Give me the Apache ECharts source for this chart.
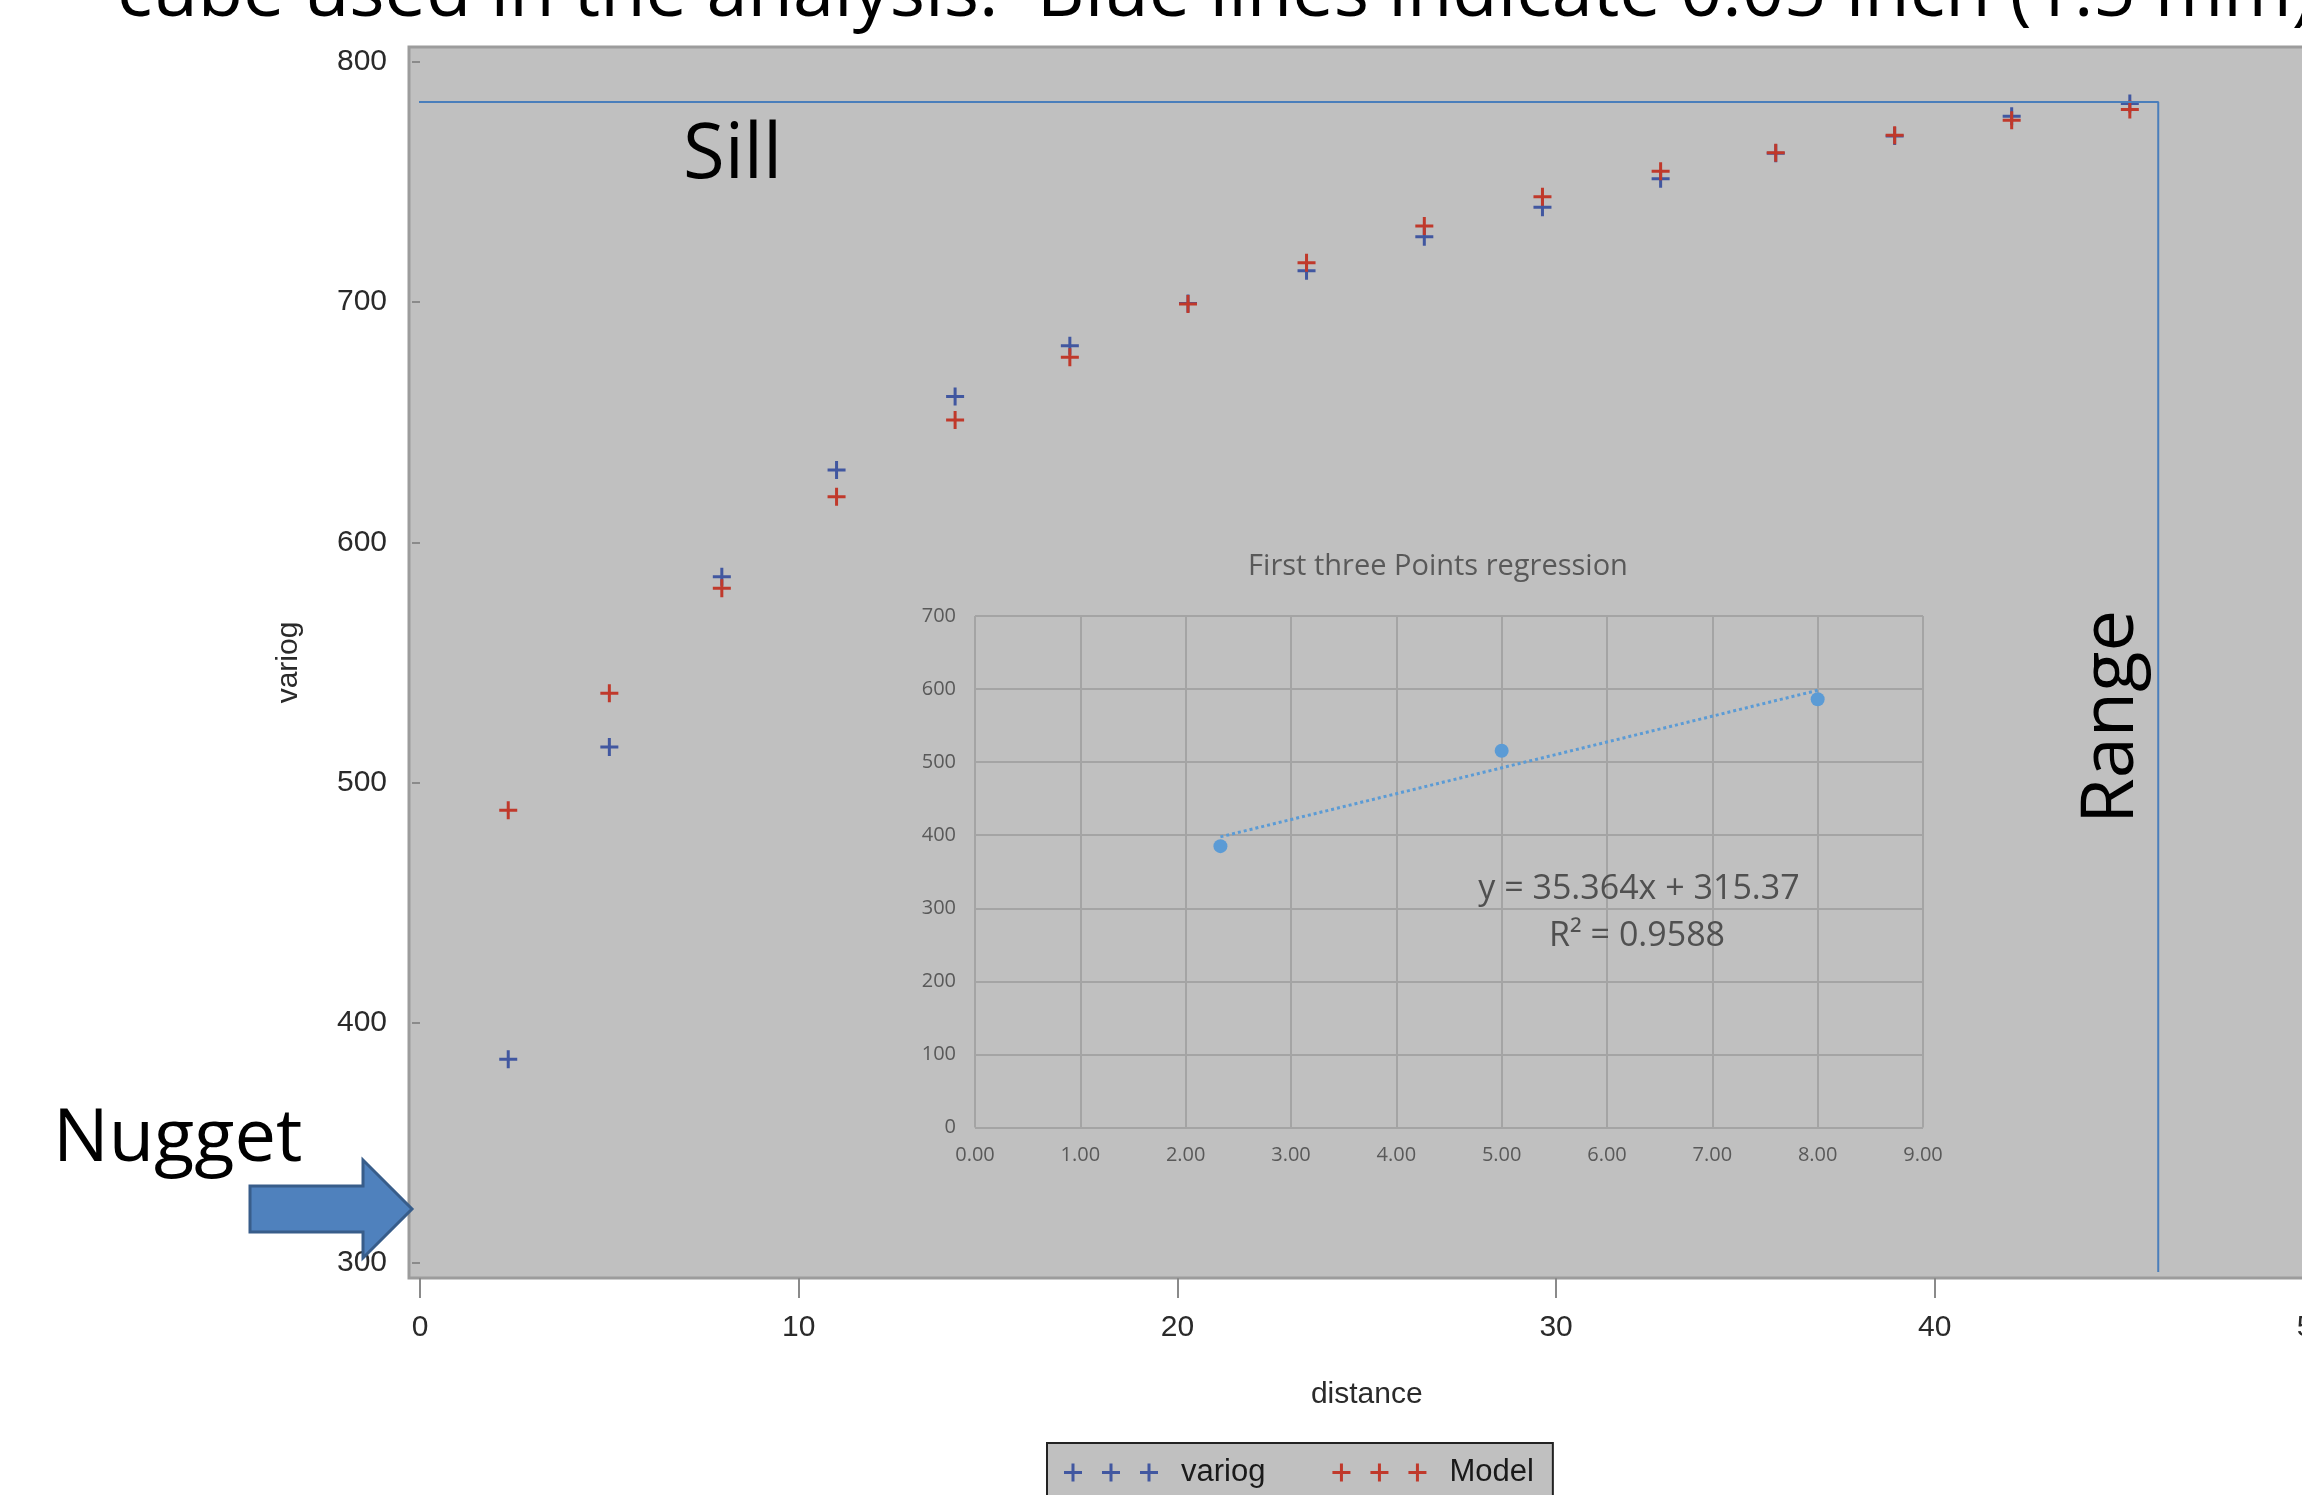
<!DOCTYPE html>
<html><head><meta charset="utf-8">
<script src="https://cdn.jsdelivr.net/npm/echarts@6/dist/echarts.min.js"></script>
<style>html,body{margin:0;padding:0;background:#fff}#c{width:2302px;height:1495px}</style>
</head><body><div id="c"></div>
<script>
// ---- main variogram data ----
const distance = [2.33, 5.0, 7.97, 11.0, 14.13, 17.16, 20.28, 23.41, 26.52, 29.64, 32.76, 35.8, 38.94, 42.03, 45.15];
const variog   = [384.8, 514.8, 585.7, 630.1, 660.7, 681.9, 699.5, 713.1, 727.3, 739.5, 751.4, 762.0, 769.2, 777.4, 782.7];
const model    = [488.5, 537.2, 580.9, 619.0, 651.0, 677.1, 699.3, 716.4, 731.7, 743.9, 754.5, 762.2, 769.5, 775.8, 780.2];
const mainXTicks = [0, 10, 20, 30, 40, 50];
const mainYTicks = [300, 400, 500, 600, 700, 800];
// sill / range guide lines (data units)
const sillValue = 783.3;
const rangeValue = 45.9;
const sillStartX = -0.29;
const rangeBottomY = 296.3;
// ---- inset regression data ----
const insetX = [2.33, 5.0, 8.0];
const insetY = [385, 515.5, 586];
const insetXTicks = [0, 1, 2, 3, 4, 5, 6, 7, 8, 9];
const insetYTicks = [0, 100, 200, 300, 400, 500, 600, 700];
const slope = 35.364, intercept = 315.37, rSquared = 0.9588;

const BLUE = '#4157a0', RED = '#c0392b', XL = '#5b9bd5';
function plusAt(o, s, t) {
  const a = o + (s - t) / 2, b = o + (s + t) / 2, c = (s - t) / 2, d = (s + t) / 2;
  return `M${a},0H${b}V${c}H${o + s}V${d}H${b}V${s}H${a}V${d}H${o}V${c}H${a}Z`;
}
const plusPath = 'path://' + plusAt(0, 18, 3);
const legendPath = 'path://' + plusAt(0, 18, 3) + plusAt(38, 18, 3) + plusAt(76, 18, 3);

const trend = [insetX[0], insetX[insetX.length - 1]].map(x => [x, slope * x + intercept]);

const chart = echarts.init(document.getElementById('c'), null, {renderer: 'canvas'});
const mainFont = 'Liberation Sans';
const excelFont = 'Open Sans';
chart.setOption({
  animation: false,
  backgroundColor: '#fff',
  grid: [
    {left: 409, top: 47, width: 1960, height: 1231, show: true, backgroundColor: '#c0c0c0', borderColor: '#9c9c9c', borderWidth: 3, outerBoundsMode: 'none', containLabel: false},
    {left: 420, top: 62, width: 1893.5, height: 1201, outerBoundsMode: 'none', containLabel: false},
    {left: 975, top: 616, width: 948, height: 511.5, outerBoundsMode: 'none', containLabel: false}
  ],
  xAxis: [
    {gridIndex: 0, type: 'value', show: false, min: 0, max: 1},
    {gridIndex: 1, type: 'value', min: mainXTicks[0], max: mainXTicks[mainXTicks.length - 1], interval: 10, offset: 15,
      axisLine: {show: false}, splitLine: {show: false},
      axisTick: {show: true, length: 20, lineStyle: {color: '#8a8a8a', width: 2}},
      axisLabel: {margin: 35, fontSize: 30, color: '#2a2a2a', fontFamily: mainFont},
      name: 'distance', nameLocation: 'middle', nameGap: 102,
      nameTextStyle: {fontSize: 30, color: '#2a2a2a', fontFamily: mainFont}},
    {gridIndex: 2, type: 'value', min: insetXTicks[0], max: insetXTicks[insetXTicks.length - 1], interval: 1,
      axisLine: {show: false}, axisTick: {show: false},
      splitLine: {show: true, lineStyle: {color: '#a4a4a4', width: 2}},
      axisLabel: {margin: 18, fontSize: 20, color: '#595959', fontFamily: excelFont, formatter: v => v.toFixed(2)}}
  ],
  yAxis: [
    {gridIndex: 0, type: 'value', show: false, min: 0, max: 1},
    {gridIndex: 1, type: 'value', min: mainYTicks[0], max: mainYTicks[mainYTicks.length - 1], interval: 100, offset: 11,
      axisLine: {show: false}, splitLine: {show: false},
      axisTick: {show: true, length: 8, lineStyle: {color: '#8a8a8a', width: 2}},
      axisLabel: {margin: 22, fontSize: 30, color: '#2a2a2a', fontFamily: mainFont},
      name: 'variog', nameLocation: 'middle', nameGap: 105, nameRotate: 90,
      nameTextStyle: {fontSize: 30, color: '#2a2a2a', fontFamily: mainFont}},
    {gridIndex: 2, type: 'value', min: insetYTicks[0], max: insetYTicks[insetYTicks.length - 1], interval: 100,
      axisLine: {show: false}, axisTick: {show: false},
      splitLine: {show: true, lineStyle: {color: '#a4a4a4', width: 2}},
      axisLabel: {margin: 19, fontSize: 20, color: '#595959', fontFamily: excelFont}}
  ],
  legend: {
    data: [{name: 'variog', icon: legendPath}, {name: 'Model', icon: legendPath}],
    left: 1047, top: 1443, padding: [14, 19, 14, 17],
    itemGap: 67, itemWidth: 94, itemHeight: 18,
    backgroundColor: '#c0c0c0', borderColor: '#222', borderWidth: 2,
    textStyle: {fontSize: 31, fontFamily: mainFont, color: '#1a1a1a', padding: [0, 0, 0, 18]}
  },
  series: [
    {name: 'guides', type: 'line', xAxisIndex: 1, yAxisIndex: 1, clip: false, silent: true, symbol: 'none',
      lineStyle: {color: '#4a7ebb', width: 2},
      data: [[sillStartX, sillValue], [rangeValue, sillValue], [rangeValue, rangeBottomY]]},
    {name: 'variog', type: 'scatter', xAxisIndex: 1, yAxisIndex: 1, symbol: plusPath, symbolSize: 18,
      itemStyle: {color: BLUE, opacity: 1}, data: distance.map((d, i) => [d, variog[i]])},
    {name: 'Model', type: 'scatter', xAxisIndex: 1, yAxisIndex: 1, symbol: plusPath, symbolSize: 18,
      itemStyle: {color: RED, opacity: 1}, data: distance.map((d, i) => [d, model[i]])},
    {name: 'trend', type: 'line', xAxisIndex: 2, yAxisIndex: 2, symbol: 'none', silent: true,
      lineStyle: {color: XL, width: 3, type: 'dotted'}, data: trend},
    {name: 'first3', type: 'scatter', xAxisIndex: 2, yAxisIndex: 2, symbol: 'circle', symbolSize: 14,
      itemStyle: {color: XL, opacity: 1}, data: insetX.map((x, i) => [x, insetY[i]])}
  ],
  graphic: [
    {type: 'text', x: 117, y: -5, z: 100, style: {text: 'cube used in the analysis.  Blue lines indicate 0.05 inch (1.5 mm)', font: '74px "Open Sans"', fill: '#000', align: 'left', verticalAlign: 'middle'}},
    {type: 'text', x: 683, y: 156, z: 100, style: {text: 'Sill', font: '76px "Open Sans"', fill: '#000', align: 'left', verticalAlign: 'middle'}},
    {type: 'text', x: 53, y: 1140, z: 100, style: {text: 'Nugget', font: '74px "Open Sans"', fill: '#000', align: 'left', verticalAlign: 'middle'}},
    {type: 'text', x: 2112, y: 717, rotation: Math.PI / 2, z: 100, style: {text: 'Range', font: '74px "Open Sans"', fill: '#000', align: 'center', verticalAlign: 'middle'}},
    {type: 'polygon', z: 100, shape: {points: [[250, 1186], [363, 1186], [363, 1160], [412, 1209], [363, 1258], [363, 1232], [250, 1232]]},
      style: {fill: '#4f81bd', stroke: '#385d8a', lineWidth: 3}},
    {type: 'text', x: 1438, y: 567, z: 100, style: {text: 'First three Points regression', font: '29px "Open Sans"', fill: '#595959', align: 'center', verticalAlign: 'middle'}},
    {type: 'text', x: 1639, y: 889, z: 100, style: {text: 'y = ' + slope + 'x + ' + intercept, font: '34px "Open Sans"', fill: '#505050', align: 'center', verticalAlign: 'middle'}},
    {type: 'text', x: 1637, y: 936, z: 100, style: {text: 'R\u00b2 = ' + rSquared, font: '34px "Open Sans"', fill: '#505050', align: 'center', verticalAlign: 'middle'}}
  ]
});
</script></body></html>
